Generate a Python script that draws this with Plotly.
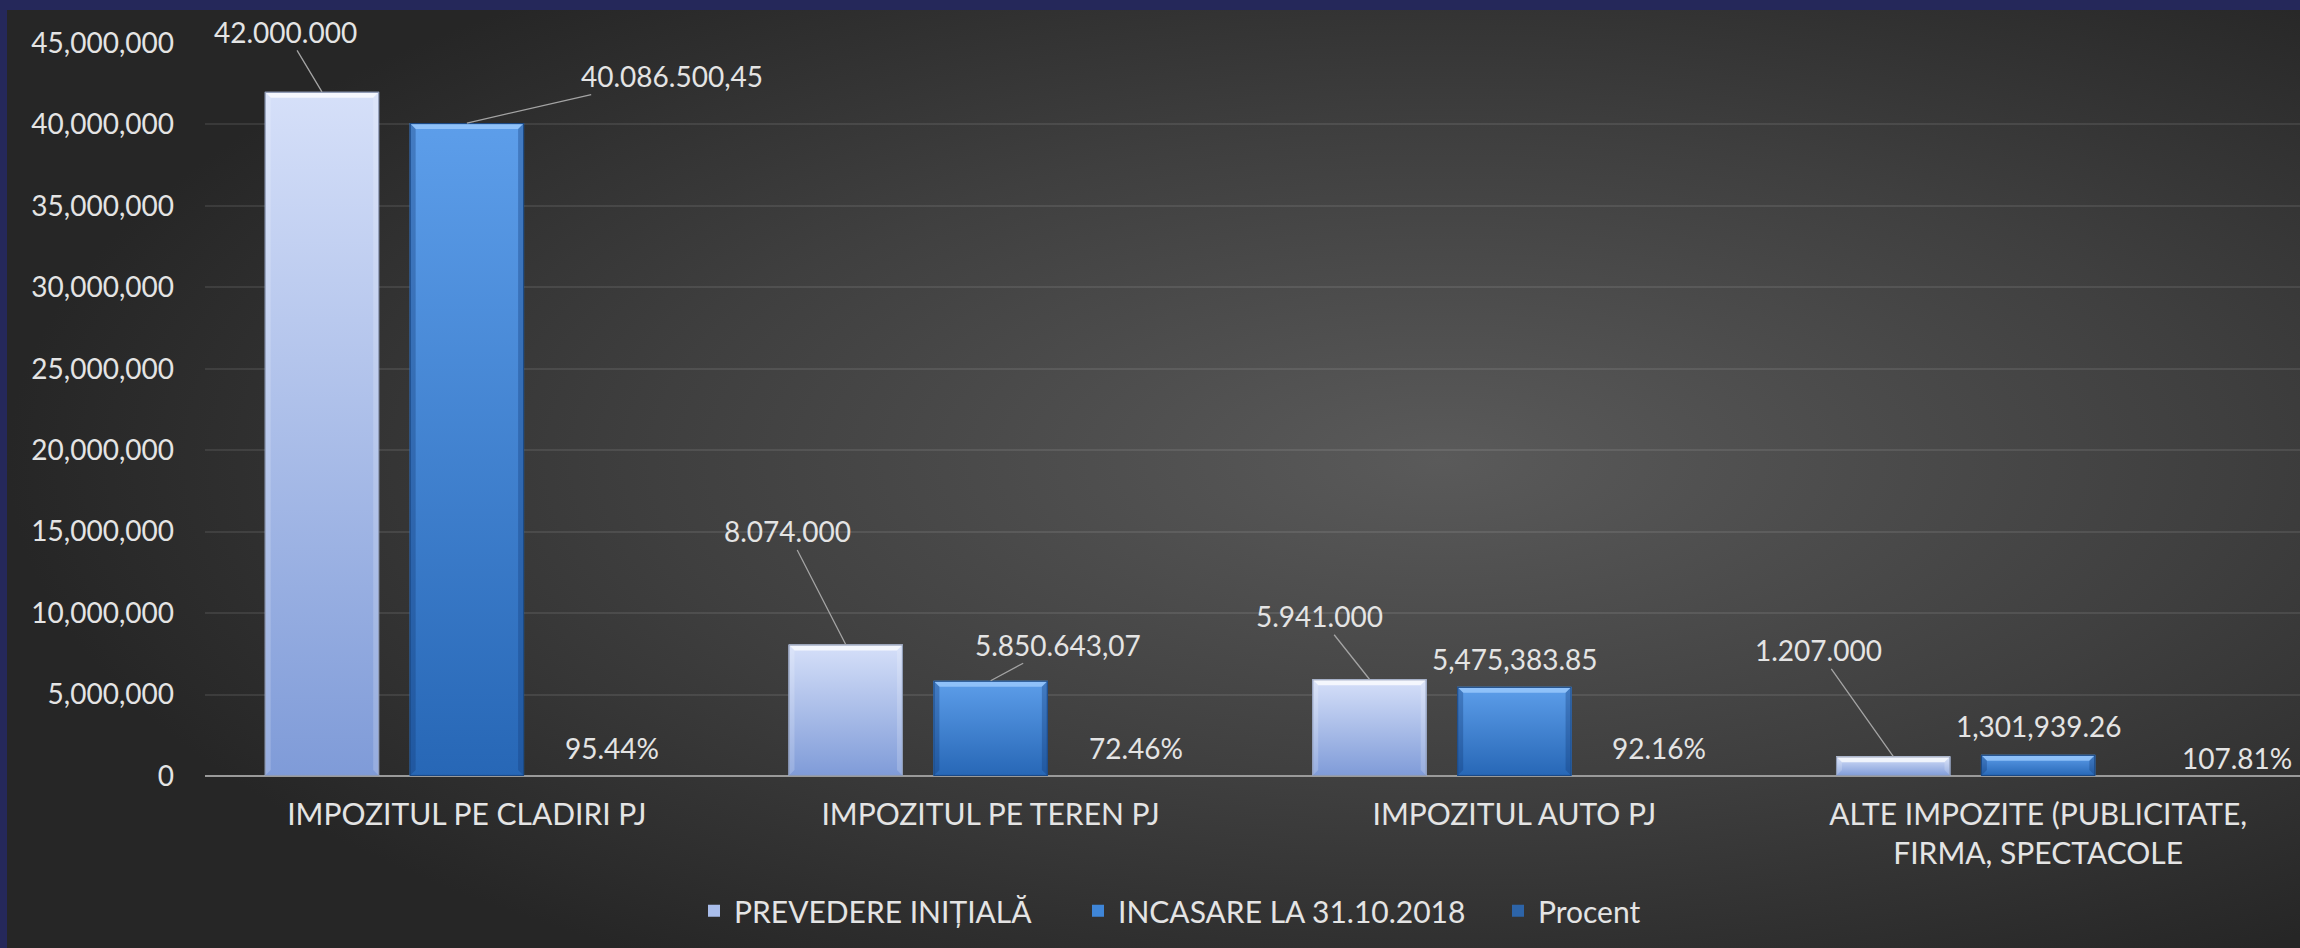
import base64
import plotly.graph_objects as go

# ---------------- data ----------------
categories = [
    "IMPOZITUL PE CLADIRI PJ",
    "IMPOZITUL PE TEREN PJ",
    "IMPOZITUL AUTO PJ",
    "ALTE IMPOZITE (PUBLICITATE,<br>FIRMA, SPECTACOLE",
]
prevedere = [42000000, 8074000, 5941000, 1207000]
incasare = [40086500.45, 5850643.07, 5475383.85, 1301939.26]
procent = [95.44, 72.46, 92.16, 107.81]

prevedere_labels = ["42.000.000", "8.074.000", "5.941.000", "1.207.000"]
incasare_labels = ["40.086.500,45", "5.850.643,07", "5,475,383.85", "1,301,939.26"]
procent_labels = ["95.44%", "72.46%", "92.16%", "107.81%"]

y_tickvals = [0, 5000000, 10000000, 15000000, 20000000, 25000000,
              30000000, 35000000, 40000000, 45000000]
y_max = 45000000

series_names = ["PREVEDERE INIȚIALĂ", "INCASARE LA 31.10.2018", "Procent"]

# ---------------- style ----------------
W, H = 2300, 948
ML, MR, MT, MB = 205, 0, 43, 172
FONT = "Lato"
TXT = "#e4e4e4"
FS_NUM = 28
FS_TXT = 30

bargap = 0.17
bargroupgap = 0.21
slot = (1 - bargap) / 3
bw = slot * (1 - bargroupgap)
centers = [-slot, 0.0, slot]
x_range = [-0.5, 3.5]

xs = list(range(len(categories)))

prev_off = [(-36, -60), (-58, -113), (-50, -63), (-75, -106)]
inc_off = [(205, -47), (67, -36), None, None]
inc_yshift = [0, 0, 28, 29]
pct_xshift = [0, 0, 0, 54]
pct_yshift = [28, 28, 28, 18]
legend_widths = [339, 375, None]

pw = W - ML - MR
ph = H - MT - MB
px_x = pw / (x_range[1] - x_range[0])
px_y = ph / y_max


def svg_uri(svg):
    return "data:image/svg+xml;base64," + base64.b64encode(svg.encode("utf-8")).decode()


def bar_svg(w, h, top, bottom, bevel_top, side, border):
    b = min(6.0, h / 3.0)
    return svg_uri(
        f'<svg xmlns="http://www.w3.org/2000/svg" width="{w:.1f}" height="{h:.1f}" '
        f'viewBox="0 0 {w:.2f} {h:.2f}" preserveAspectRatio="none">'
        '<defs><linearGradient id="g" x1="0" y1="0" x2="0" y2="1">'
        f'<stop offset="0" stop-color="{top}"/>'
        f'<stop offset="1" stop-color="{bottom}"/>'
        '</linearGradient></defs>'
        f'<rect x="0" y="0" width="{w:.2f}" height="{h:.2f}" fill="url(#g)"/>'
        f'<polygon points="0,0 {w:.2f},0 {w-b:.2f},{b:.2f} {b:.2f},{b:.2f}" fill="{bevel_top}"/>'
        f'<polygon points="0,0 {b:.2f},{b:.2f} {b:.2f},{h-b:.2f} 0,{h:.2f}" fill="{side}"/>'
        f'<polygon points="{w:.2f},0 {w:.2f},{h:.2f} {w-b:.2f},{h-b:.2f} {w-b:.2f},{b:.2f}" fill="{side}"/>'
        f'<rect x="0.5" y="0.5" width="{w-1:.2f}" height="{h-1:.2f}" fill="none" '
        f'stroke="{border}" stroke-width="1.2"/>'
        '</svg>'
    )


bg_uri = svg_uri(
    '<svg xmlns="http://www.w3.org/2000/svg" width="100" height="100" '
    'viewBox="0 0 100 100" preserveAspectRatio="none">'
    '<defs><radialGradient id="r" cx="0.62" cy="0.47" r="0.62">'
    '<stop offset="0" stop-color="#5a5a5a"/>'
    '<stop offset="0.55" stop-color="#3f3f3f"/>'
    '<stop offset="1" stop-color="#262626"/>'
    '</radialGradient></defs>'
    '<rect x="0" y="0" width="100" height="100" fill="url(#r)"/></svg>'
)

fig = go.Figure()

colors = ["#a9bdea", "#3f86d8", "#2d64a8"]
values = [prevedere, incasare, [p / 100 for p in procent]]
for k in range(3):
    kw = {}
    if legend_widths[k]:
        kw["legendwidth"] = legend_widths[k]
    fig.add_trace(go.Bar(
        x=xs, y=values[k], name=series_names[k],
        width=bw, offset=centers[k] - bw / 2,
        marker=dict(color=colors[k], line=dict(width=0)),
        hoverinfo="skip", **kw,
    ))

images = []
images.append(dict(
    source=bg_uri, xref="paper", yref="paper",
    x=(7 - ML) / pw, y=(H - MB - 10) / ph,
    sizex=(W - 7 + 20) / pw, sizey=(H - 10 + 20) / ph,
    xanchor="left", yanchor="top", sizing="stretch", layer="below",
))

bar_styles = [
    dict(top="#d6e0f9", bottom="#7f9bd8", bevel_top="rgba(255,255,255,0.75)",
         side="rgba(255,255,255,0.18)", border="#8f9bb5"),
    dict(top="#5d9eea", bottom="#2767b6", bevel_top="rgba(160,205,255,0.75)",
         side="rgba(20,60,120,0.35)", border="#1c4a86"),
]
for k, vals in enumerate([prevedere, incasare]):
    for i, v in enumerate(vals):
        src = bar_svg(bw * px_x, v * px_y, **bar_styles[k])
        images.append(dict(
            source=src, xref="x", yref="y",
            x=xs[i] + centers[k] - bw / 2, y=v,
            sizex=bw, sizey=v,
            xanchor="left", yanchor="top", sizing="stretch", layer="above",
        ))

annotations = []
afont = dict(family=FONT, size=FS_NUM, color=TXT)
for i in range(len(categories)):
    ax, ay = prev_off[i]
    annotations.append(dict(
        x=xs[i] + centers[0], y=prevedere[i], xref="x", yref="y",
        text=prevedere_labels[i], showarrow=True, ax=ax, ay=ay,
        arrowhead=0, arrowwidth=1.3, arrowcolor="#a4a4a4",
        standoff=0, font=afont,
    ))
    if inc_off[i] is not None:
        ax, ay = inc_off[i]
        annotations.append(dict(
            x=xs[i] + centers[1], y=incasare[i], xref="x", yref="y",
            text=incasare_labels[i], showarrow=True, ax=ax, ay=ay,
            arrowhead=0, arrowwidth=1.3, arrowcolor="#a4a4a4",
            standoff=0, font=afont,
        ))
    else:
        annotations.append(dict(
            x=xs[i] + centers[1], y=incasare[i], xref="x", yref="y",
            text=incasare_labels[i], showarrow=False, yshift=inc_yshift[i],
            font=afont,
        ))
    annotations.append(dict(
        x=xs[i] + centers[2], y=0, xref="x", yref="y",
        text=procent_labels[i], showarrow=False,
        xshift=pct_xshift[i], yshift=pct_yshift[i], font=afont,
    ))

fig.update_layout(
    width=W, height=H,
    margin=dict(l=ML, r=MR, t=MT, b=MB, pad=0),
    paper_bgcolor="#25285a",
    plot_bgcolor="rgba(0,0,0,0)",
    barmode="overlay",
    font=dict(family=FONT, size=FS_TXT, color=TXT),
    images=images,
    annotations=annotations,
    showlegend=True,
    legend=dict(
        orientation="h", x=(716 - 22 - ML) / pw, xanchor="left",
        y=-0.184, yanchor="middle",
        font=dict(family=FONT, size=FS_TXT, color=TXT),
        bgcolor="rgba(0,0,0,0)", itemclick=False, itemdoubleclick=False,
    ),
    xaxis=dict(
        range=x_range, tickmode="array", tickvals=xs, ticktext=categories,
        showgrid=False, zeroline=False, showline=False, ticks="",
        ticklabelstandoff=18, tickfont=dict(family=FONT, size=FS_TXT, color=TXT),
        fixedrange=True,
    ),
    yaxis=dict(
        range=[0, y_max], tickmode="array", tickvals=y_tickvals,
        tickformat=",d", showgrid=True, gridcolor="rgba(255,255,255,0.09)",
        gridwidth=2, zeroline=True, zerolinecolor="#9a9a9a", zerolinewidth=2,
        showline=False, ticks="", ticklabelstandoff=30,
        tickfont=dict(family=FONT, size=FS_NUM, color=TXT), fixedrange=True,
    ),
)

fig.write_html(
    "out.html",
    config={"displayModeBar": False},
    post_script="document.body.style.margin='0';document.body.style.overflow='hidden';",
)
